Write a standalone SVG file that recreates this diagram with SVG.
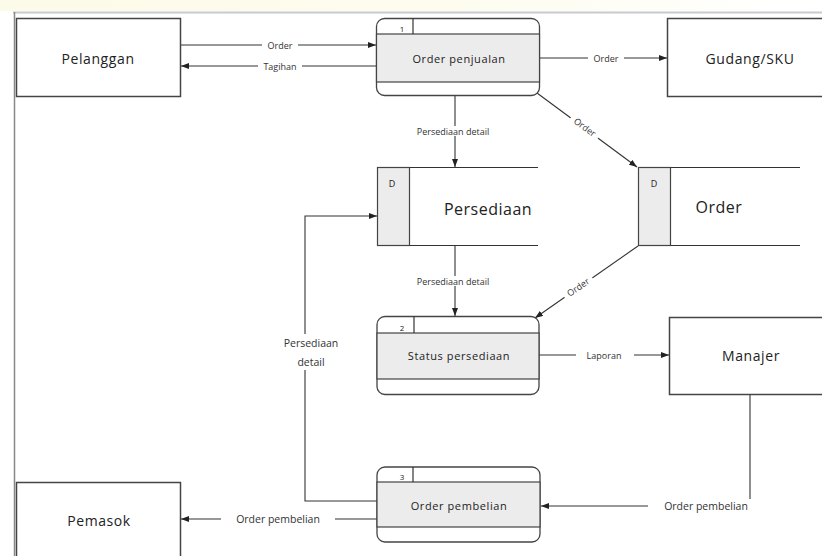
<svg xmlns="http://www.w3.org/2000/svg" width="822" height="556" viewBox="0 0 822 556">
<defs>
<marker id="ah" markerWidth="8" markerHeight="6" refX="8" refY="3" orient="auto" markerUnits="userSpaceOnUse">
<path d="M0,0 L8,3 L0,6 z" fill="#222"/>
</marker>
<linearGradient id="yb" x1="0" y1="0" x2="1" y2="0">
<stop offset="0" stop-color="#fcfae8"/>
<stop offset="0.55" stop-color="#fdfcef"/>
<stop offset="1" stop-color="#ffffff"/>
</linearGradient>
</defs>
<style>
.box{fill:#fff;stroke:#444;stroke-width:1.5}
.proc{fill:#fff;stroke:#444;stroke-width:1.3}
.band{fill:#ececec;stroke:#444;stroke-width:1.2}
.ln{fill:none;stroke:#333;stroke-width:1.2}
.con{fill:none;stroke:#333;stroke-width:1.1}
.arr{marker-end:url(#ah)}
.ent{font-family:"Open Sans","Liberation Sans",sans-serif;font-size:14px;fill:#222;text-anchor:middle;dominant-baseline:central;letter-spacing:0.6px}
.pt{font-family:"Open Sans","Liberation Sans",sans-serif;font-size:11px;fill:#222;text-anchor:middle;dominant-baseline:central;letter-spacing:0.6px}
.num{font-family:"Open Sans","Liberation Sans",sans-serif;font-size:8px;fill:#222;text-anchor:middle;dominant-baseline:central}
.st{font-family:"Open Sans","Liberation Sans",sans-serif;font-size:16px;fill:#222;text-anchor:middle;dominant-baseline:central;letter-spacing:0.5px}
.lb{font-family:"Open Sans","Liberation Sans",sans-serif;font-size:9px;fill:#333;text-anchor:middle;dominant-baseline:central}
.lb2{font-family:"Open Sans","Liberation Sans",sans-serif;font-size:10.5px;fill:#333;text-anchor:middle;dominant-baseline:central}
.bg{fill:#fff}
</style>
<rect x="0" y="0" width="822" height="556" fill="#fff"/>
<rect x="0" y="0" width="822" height="11" fill="url(#yb)"/>
<g id="frame">
<line x1="13" y1="12.5" x2="822" y2="12.5" stroke="#c8cad2" stroke-width="2"/>
<line x1="14.5" y1="12" x2="14.5" y2="556" stroke="#888" stroke-width="1.5"/>
</g>

<g id="connectors">
<line class="con arr" x1="181" y1="45" x2="376" y2="45"/>
<line class="con arr" x1="376" y1="66" x2="181" y2="66"/>
<line class="con arr" x1="540" y1="58" x2="667" y2="58"/>
<line class="con arr" x1="537" y1="93" x2="637" y2="167"/>
<line class="con arr" x1="455" y1="96" x2="455" y2="167"/>
<line class="con arr" x1="455" y1="246" x2="455" y2="316"/>
<line class="con arr" x1="638" y1="246" x2="535" y2="318"/>
<line class="con arr" x1="539" y1="355" x2="669" y2="355"/>
<polyline class="con arr" points="750,394 750,506 541,506"/>
<polyline class="con arr" points="377,501 305,501 305,216 377,216"/>
<line class="con arr" x1="377" y1="519" x2="181" y2="519"/>
<g id="labels">
<rect class="bg" x="262" y="40" width="36" height="10"/>
<text class="lb" x="280" y="45">Order</text>
<rect class="bg" x="258" y="61" width="44" height="10"/>
<text class="lb" x="280" y="66">Tagihan</text>
<rect class="bg" x="588" y="53" width="36" height="10"/>
<text class="lb" x="606" y="58">Order</text>
<g transform="translate(585,127) rotate(36.5)">
<rect class="bg" x="-17" y="-5" width="34" height="10"/>
<text class="lb" x="0" y="0">Order</text>
</g>
<rect class="bg" x="401" y="126" width="104" height="10"/>
<text class="lb" x="453" y="131">Persediaan detail</text>
<rect class="bg" x="401" y="276" width="104" height="10"/>
<text class="lb" x="453" y="281">Persediaan detail</text>
<g transform="translate(578,287) rotate(-35)">
<rect class="bg" x="-17" y="-5" width="34" height="10"/>
<text class="lb" x="0" y="0">Order</text>
</g>
<rect class="bg" x="576" y="349" width="58" height="12"/>
<text class="lb" x="604" y="355">Laporan</text>
<rect class="bg" x="648" y="499" width="116" height="14"/>
<text class="lb2" x="706" y="506">Order pembelian</text>
<rect class="bg" x="221" y="512" width="114" height="14"/>
<text class="lb2" x="278" y="519">Order pembelian</text>
<rect class="bg" x="268" y="334" width="86" height="36"/>
<text class="lb2" x="311" y="343">Persediaan</text>
<text class="lb2" x="311" y="362">detail</text>
</g>
</g>

<g id="pelanggan">
<rect class="box" x="16.5" y="18.5" width="164" height="78"/>
<text class="ent" x="98" y="58">Pelanggan</text>
</g>

<g id="gudang">
<rect class="box" x="667.5" y="18.5" width="170" height="78"/>
<text class="ent" x="750" y="58">Gudang/SKU</text>
</g>

<g id="manajer">
<rect class="box" x="669.5" y="317.5" width="170" height="77"/>
<text class="ent" x="751" y="355">Manajer</text>
</g>

<g id="pemasok">
<rect class="box" x="16.5" y="482.5" width="164" height="90"/>
<text class="ent" x="99" y="520">Pemasok</text>
</g>

<g id="p1">
<rect class="proc" x="376.5" y="18.5" width="163" height="77" rx="8"/>
<rect class="band" x="376.5" y="34" width="163" height="48"/>
<line class="ln" x1="413" y1="18.5" x2="413" y2="34"/>
<text class="num" x="402" y="28">1</text>
<text class="pt" x="459" y="58">Order penjualan</text>
</g>

<g id="p2">
<rect class="proc" x="377" y="316.5" width="162" height="78" rx="8"/>
<rect class="band" x="377" y="333" width="162" height="46"/>
<line class="ln" x1="414" y1="316.5" x2="414" y2="333"/>
<text class="num" x="402" y="327">2</text>
<text class="pt" x="459" y="355">Status persediaan</text>
</g>

<g id="p3">
<rect class="proc" x="377" y="467" width="163" height="75" rx="8"/>
<rect class="band" x="377" y="482" width="163" height="45"/>
<line class="ln" x1="413" y1="467" x2="413" y2="482"/>
<text class="num" x="402" y="476">3</text>
<text class="pt" x="459" y="505">Order pembelian</text>
</g>

<g id="persediaan">
<rect class="band" x="377.5" y="167.5" width="32" height="78"/>
<line class="ln" x1="409.5" y1="167.5" x2="538" y2="167.5"/>
<line class="ln" x1="409.5" y1="245.5" x2="538" y2="245.5"/>
<text class="num" x="392" y="183" style="font-size:9px">D</text>
<text class="st" x="488" y="209">Persediaan</text>
</g>

<g id="orderstore">
<rect class="band" x="638.5" y="167.5" width="32" height="78"/>
<line class="ln" x1="670.5" y1="167.5" x2="800" y2="167.5"/>
<line class="ln" x1="670.5" y1="245.5" x2="800" y2="245.5"/>
<text class="num" x="654" y="183" style="font-size:9px">D</text>
<text class="st" x="719" y="207">Order</text>
</g>
</svg>
